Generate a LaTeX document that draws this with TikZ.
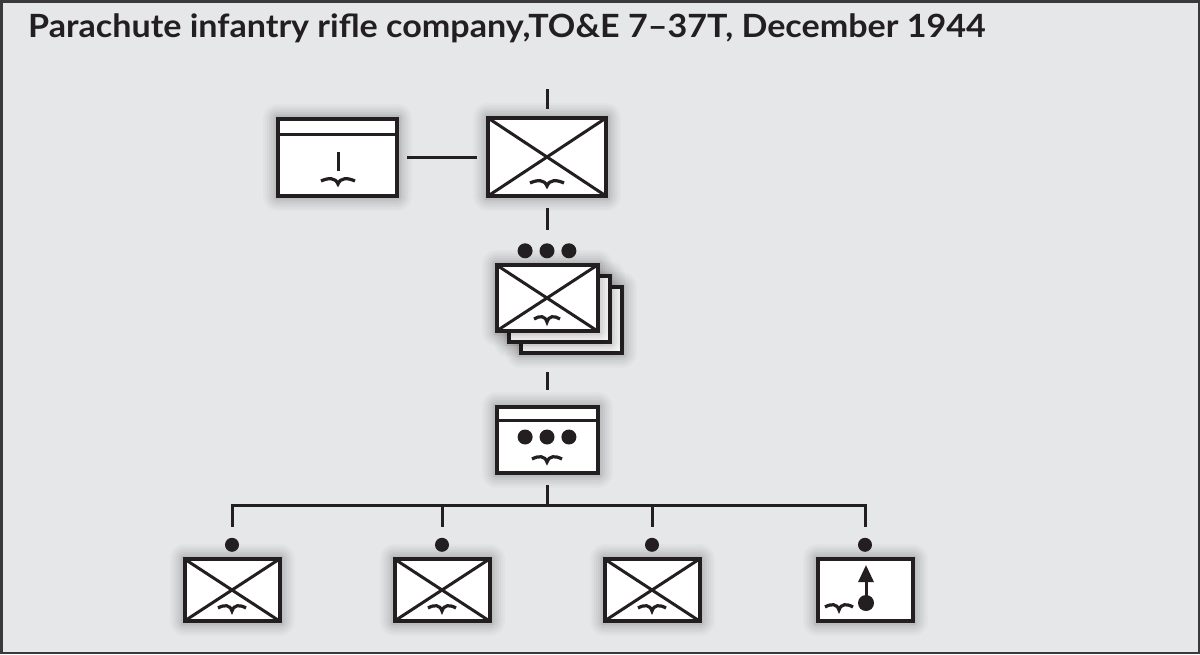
\documentclass[tikz,border=0pt]{standalone}
\usepackage{fontspec}
\setmainfont{Lato}
\usetikzlibrary{arrows.meta, positioning, calc}
\definecolor{Ink}  {HTML}{231F20}
\definecolor{Paper}{HTML}{E6E7E9}
\definecolor{Frame}{HTML}{3A3A3C}
\tikzset{
  unit/.style args={#1/#2}{
    rectangle, draw=Ink, fill=white, line width=4pt,
    minimum width=#1, minimum height=#2, inner sep=0pt,
    glow,
  },
  % soft halo round each symbol
  glow/.style={
    preaction={draw=black, draw opacity=0.02, line width=30pt, line join=round},
    preaction={draw=black, draw opacity=0.02, line width=26pt, line join=round},
    preaction={draw=black, draw opacity=0.025, line width=22pt, line join=round},
    preaction={draw=black, draw opacity=0.025, line width=18pt, line join=round},
    preaction={draw=black, draw opacity=0.03, line width=14pt, line join=round},
    preaction={draw=black, draw opacity=0.03, line width=10pt, line join=round},
    preaction={draw=black, draw opacity=0.03, line width=7pt},
  },
  inf/.style={path picture={
      \draw[Ink, line width=3pt]
        (path picture bounding box.north west) -- (path picture bounding box.south east)
        (path picture bounding box.south west) -- (path picture bounding box.north east);
  }},
  hqband/.style={path picture={
      \draw[Ink, line width=3pt]
        ([yshift=-#1]path picture bounding box.north west) --
        ([yshift=-#1]path picture bounding box.north east);
  }},
  dot/.style={circle, fill=Ink, minimum size=15pt, inner sep=0pt},
  sdot/.style={circle, fill=Ink, minimum size=14pt, inner sep=0pt},
  link/.style={draw=Ink, line width=3pt},
  wing/.style={draw=Ink, line width=3.2pt},
}
% airborne sign: centre x, centre y, half width (y runs downwards)
\newcommand{\wings}[3]{%
  \draw[wing] (#1-#3,#2+1)
     .. controls (#1-0.55*#3,#2-2.5) and (#1-0.15*#3,#2-2.5) .. (#1,#2+4)
     .. controls (#1+0.15*#3,#2-2.5) and (#1+0.55*#3,#2-2.5) .. (#1+#3,#2+1);}
\begin{document}
\begin{tikzpicture}[x=1pt, y=-1pt]

    \fill[Paper] (0,0) rectangle (1200,654);
    \draw[Frame, line width=2.5pt] (1.25,1.25) rectangle (1198.75,652.75);
    \useasboundingbox (0,0) rectangle (1200,654);

    \node[anchor=base west, inner sep=0pt, text=Ink,
          font=\fontsize{32}{38}\selectfont\bfseries] (title) at (28,37)
          {\scalebox{1.065}[1]{Parachute infantry rifle company,TO\&E 7--37T, December 1944}};

    % company and company HQ
    \node[unit=118pt/78pt, inf]          (coy) at (547,157)   {};
    \node[unit=119pt/77pt, hqband=16pt]  (hq)  at (337.5,157) {};
    \coordinate (top) at (547,89);
    \wings{547}{182}{17}
    \draw[Ink, line width=3pt] (338,152) -- (338,171);
    \wings{338}{180}{17}

    % three platoons
    \node[unit=101pt/66pt]      (plt3) at (571,320) {};
    \node[unit=101pt/66pt]      (plt2) at (559,309) {};
    \node[unit=101pt/66pt, inf] (plt1) at (547,298) {};
    \node[dot, above=4.5pt of plt1] (pd2) {};
    \node[dot, left=6.5pt of pd2]   (pd1) {};
    \node[dot, right=6.5pt of pd2]  (pd3) {};
    \wings{547}{318}{13}

    % platoon HQ
    \node[unit=101pt/66pt, hqband=13pt] (wpn) at (547,440) {};
    \node[dot] (wd2) at (547,437) {};
    \node[dot, left=6.5pt of wd2]  (wd1) {};
    \node[dot, right=6.5pt of wd2] (wd3) {};
    \wings{547}{458}{15}

    % squads
    \foreach \n/\x in {1/232, 2/442, 3/652} {
      \node[unit=95pt/62pt, inf] (sq\n) at (\x,590) {};
      \node[sdot, above=5pt of sq\n] (sd\n) {};
      \wings{\x}{607}{14}
    }
    \node[unit=95pt/62pt] (msq) at (865,590) {};
    \node[sdot, above=5pt of msq] (sd4) {};
    \node[circle, fill=Ink, minimum size=16pt, inner sep=0pt] (mort) at (866,603) {};
    \coordinate (mtip) at (866,565);
    \draw[link, -{Triangle[length=17pt, width=15pt]}] (mort.center) -- (mtip);
    \wings{839}{606}{14}

    % connectors
    \draw[link, shorten >=7pt] (top) -- (coy.north);
    \draw[link, shorten <=8pt, shorten >=9pt] (hq) -- (coy);
    \draw[link, shorten <=10pt, shorten >=13pt] (coy.south) -- (pd2.north);
    \draw[link, shorten <=39pt, shorten >=15pt] (plt1.south) -- (wpn.north);
    \coordinate (bar) at (547,505);
    \draw[link, shorten <=10pt] (wpn.south) -- (bar);
    \draw[link, shorten <=11pt, shorten >=11pt] (sd1.north) |- (bar) -| (sd4.north);
    \draw[link, shorten <=11pt] (sd2.north) -- (sd2.north |- bar);
    \draw[link, shorten <=11pt] (sd3.north) -- (sd3.north |- bar);

\end{tikzpicture}
\end{document}
